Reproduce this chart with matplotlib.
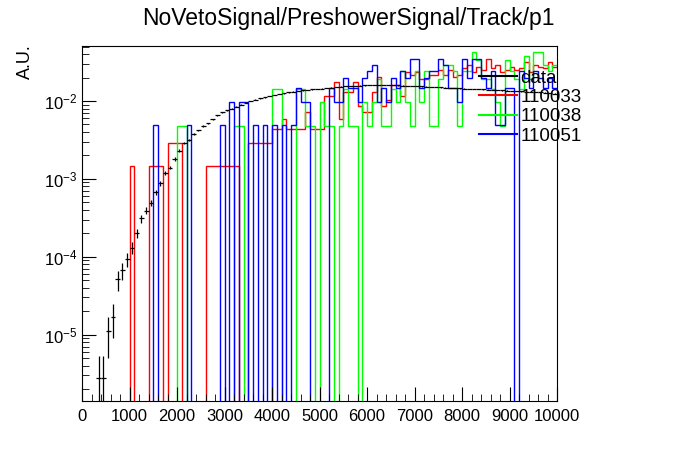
import numpy as np
import matplotlib
matplotlib.use("Agg")
import matplotlib.pyplot as plt
from matplotlib.ticker import MultipleLocator, LogLocator, NullFormatter
from matplotlib.lines import Line2D

plt.rcParams['font.family'] = ['Liberation Sans', 'DejaVu Sans']

edges = np.arange(0, 10001, 100)
centers = edges[:-1] + 50

data_vals = [0, 0, 0, 2.8e-6, 2.8e-6, 1.1e-5, 1.7e-5, 5.1e-5, 6.7e-5, 9.3e-5,
             1.3e-4, 2.0e-4, 3.1e-4, 3.9e-4, 4.9e-4, 6.7e-4, 8.8e-4, 1.2e-3, 1.4e-3, 1.8e-3,
             2.3e-3, 2.9e-3, 3.2e-3, 3.8e-3, 4.2e-3, 4.8e-3, 5.2e-3, 5.8e-3, 6.6e-3, 7.2e-3,
             7.6e-3, 8.0e-3, 8.5e-3, 9.0e-3, 9.5e-3, 1.0e-2, 1.04e-2, 1.08e-2, 1.12e-2, 1.16e-2,
             1.2e-2, 1.23e-2, 1.26e-2, 1.29e-2, 1.32e-2, 1.35e-2, 1.37e-2, 1.39e-2, 1.41e-2, 1.43e-2,
             1.45e-2, 1.47e-2, 1.49e-2, 1.51e-2, 1.53e-2, 1.55e-2, 1.56e-2, 1.57e-2, 1.58e-2, 1.59e-2,
             1.6e-2, 1.6e-2, 1.6e-2, 1.6e-2, 1.6e-2, 1.6e-2, 1.59e-2, 1.58e-2, 1.57e-2, 1.56e-2,
             1.55e-2, 1.54e-2, 1.53e-2, 1.52e-2, 1.51e-2, 1.5e-2, 1.49e-2, 1.48e-2, 1.47e-2, 1.46e-2,
             1.45e-2, 1.44e-2, 1.43e-2, 1.42e-2, 1.41e-2, 1.4e-2, 1.39e-2, 1.38e-2, 1.37e-2, 1.36e-2,
             1.35e-2, 1.34e-2, 1.33e-2, 1.32e-2, 1.31e-2, 1.3e-2, 1.29e-2, 1.28e-2, 1.27e-2, 1.25e-2]
data_err = [0, 0, 0, 2.5e-6, 2.5e-6, 6e-6, 8e-6, 1.5e-5, 1.7e-5, 2e-5,
            2.3e-5, 2.8e-5, 3.5e-5, 4e-5, 4.5e-5, 5e-5, 6e-5, 7e-5, 7.5e-5, 8.5e-5] + [1e-4] * 80

red_unit = 1.46e-3
red_counts = [0]*10 + [1, 0, 0, 0, 1, 1, 1, 0, 2, 2,
              2, 0, 0, 0, 0, 0, 1, 1, 1, 1,
              1, 1, 1, 0, 0, 2, 2, 2, 2, 2,
              3, 3, 4, 3, 3, 3, 3, 5, 3, 3,
              3, 8, 8, 12, 4, 9, 9, 12, 6, 5,
              5, 9, 14, 6, 7, 11, 11, 8, 16, 15,
              16, 13, 13, 15, 15, 17, 15, 17, 14, 15,
              18, 20, 16, 19, 17, 24, 18, 20, 16, 17,
              19, 17, 18, 22, 16, 20, 19, 18, 22, 19]

green_unit = 4.8e-3
green_counts = [0]*20 + [1, 1, 0, 0, 0, 0, 0, 0, 0, 0,
                0, 0, 1, 1, 0, 0, 0, 0, 0, 0,
                3, 3, 0, 0, 0, 3, 3, 1, 1, 0,
                2, 1, 1, 0, 1, 3, 1, 1, 0, 2,
                1, 2, 4, 1, 1, 3, 2, 5, 2, 1,
                5, 2, 5, 1, 1, 4, 6, 6, 5, 1,
                5, 5, 9, 7, 4, 4, 3, 2, 1, 7,
                5, 4, 3, 8, 4, 9, 9, 6, 5, 6]

blue_unit = 4.9e-3
blue_counts = [0]*15 + [1, 0, 0, 0, 0, 0, 0, 1, 0, 0,
               0, 0, 0, 0, 1, 0, 2, 0, 2, 2,
               0, 1, 0, 1, 0, 1, 0, 1, 0, 1,
               3, 2, 2, 0, 0, 0, 0, 3, 2, 2,
               4, 3, 3, 2, 4, 5, 6, 2, 3, 2,
               4, 3, 5, 4, 7, 7, 3, 4, 5, 5,
               7, 6, 3, 3, 2, 7, 4, 7, 7, 4,
               3, 5, 1, 1, 3, 3, 0, 5, 4, 3,
               5, 4, 3, 4, 3]

series = [("110033", "#ff0000", red_counts, red_unit),
          ("110038", "#00ff00", green_counts, green_unit),
          ("110051", "#0000ff", blue_counts, blue_unit)]

fig = plt.figure(figsize=(6.96, 4.72), dpi=100)
ax = fig.add_axes([82/696, 1-401/472, 475/696, 355/472])
ymin, ymax = 1.4e-6, 5.1e-2
for name, col, counts, unit in series:
    v = np.array(counts, float) * unit
    v = np.where(v > 0, v, 1e-12)
    ax.stairs(v, edges, color=col, lw=1.0, label=name, baseline=None)

dv = np.array(data_vals)
de = np.array(data_err)
m = dv > 0
ax.errorbar(centers[m], dv[m], xerr=50, yerr=np.minimum(de[m], dv[m]*0.999),
            fmt='none', ecolor='black', elinewidth=0.9)

ax.set_xlim(0, 10000)
ax.set_yscale('log')
ax.set_ylim(ymin, ymax)
ax.xaxis.set_major_locator(MultipleLocator(1000))
ax.xaxis.set_minor_locator(MultipleLocator(200))
ax.yaxis.set_major_locator(LogLocator(base=10, numticks=10))
ax.yaxis.set_minor_locator(LogLocator(base=10, subs=np.arange(2, 10), numticks=20))
ax.yaxis.set_minor_formatter(NullFormatter())
ax.tick_params(which='both', direction='in', labelsize=12)
ax.tick_params(which='major', length=10)
ax.tick_params(which='minor', length=5)
ax.tick_params(axis='x', which='major', pad=6)

handles = [Line2D([], [], color=c) for c in ['black', '#ff0000', '#00ff00', '#0000ff']]
ax.legend(handles, ['data', '110033', '110038', '110051'], loc='upper left',
          bbox_to_anchor=(0.82, 0.955), frameon=False, fontsize=13.5,
          handlelength=2.0, labelspacing=0.12, borderaxespad=0, handletextpad=0.2)

fig.text(0.5, 1-18/472, "NoVetoSignal/PreshowerSignal/Track/p1", ha='center', va='center', fontsize=16.5)
fig.text(25/696, 1-62/472, "A.U.", rotation=90, ha='center', va='center', fontsize=13)
fig.savefig("out.png", dpi=100)
